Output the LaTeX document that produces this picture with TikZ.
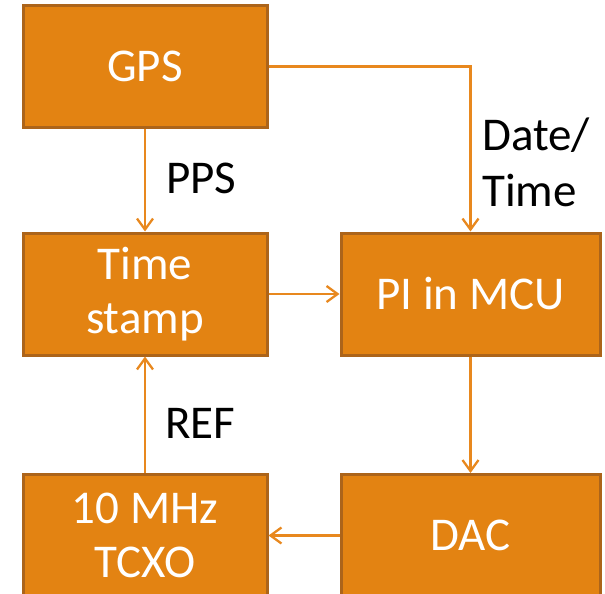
\documentclass[tikz,border=0pt]{standalone}
\usepackage{fontspec}
\setmainfont{Carlito}
\usetikzlibrary{arrows.meta}
\definecolor{boxfill}{RGB}{227,131,18}
\definecolor{boxline}{RGB}{172,100,26}
\definecolor{wire}{RGB}{232,136,30}
\tikzset{
  blk/.style={draw=boxline, line width=3pt, fill=boxfill, text=white, inner sep=0pt,
    align=center, font=\fontsize{47}{54}\selectfont},
  narrowblk/.style={blk, minimum width=244pt, minimum height=122pt},
  wideblk/.style={blk, minimum width=259pt, minimum height=122pt},
  wirearrow/.style={draw=wire, line width=2.3pt, -{Straight Barb[length=11pt,width=16pt,line width=2.3pt]}},
  lbl/.style={text=black, inner sep=0pt, align=left, anchor=base west, font=\fontsize{47}{56}\selectfont}
}
\begin{document}
\begin{tikzpicture}[x=1pt,y=-1pt]
\useasboundingbox (0,0) rectangle (605,594);
\clip (0,0) rectangle (605,594);
\node[narrowblk] (gps) at (145,66.5) {GPS};
\node[narrowblk] (ts) at (145,294) {Time\\stamp};
\node[wideblk] (pi) at (470.5,294) {PI in MCU};
\node[narrowblk] (tcxo) at (145,535.5) {10 MHz\\TCXO};
\node[wideblk] (dac) at (470.5,535.5) {DAC};
\coordinate (corner) at (pi.north |- gps.east);
\draw[wirearrow] (gps.south) -- (ts.north);
\draw[wirearrow] (gps.east) -- (corner) -- (pi.north);
\draw[wirearrow] (ts.east) -- (pi.west);
\draw[wirearrow] (pi.south) -- (dac.north);
\draw[wirearrow] (dac.west) -- (tcxo.east);
\draw[wirearrow] (tcxo.north) -- (ts.south);
\node[lbl] (pps) at (166,193) {PPS};
\node[lbl] (ref) at (165,438) {REF};
\node[lbl] (dt) at (482,206) {Date/\\Time};
\end{tikzpicture}
\end{document}
